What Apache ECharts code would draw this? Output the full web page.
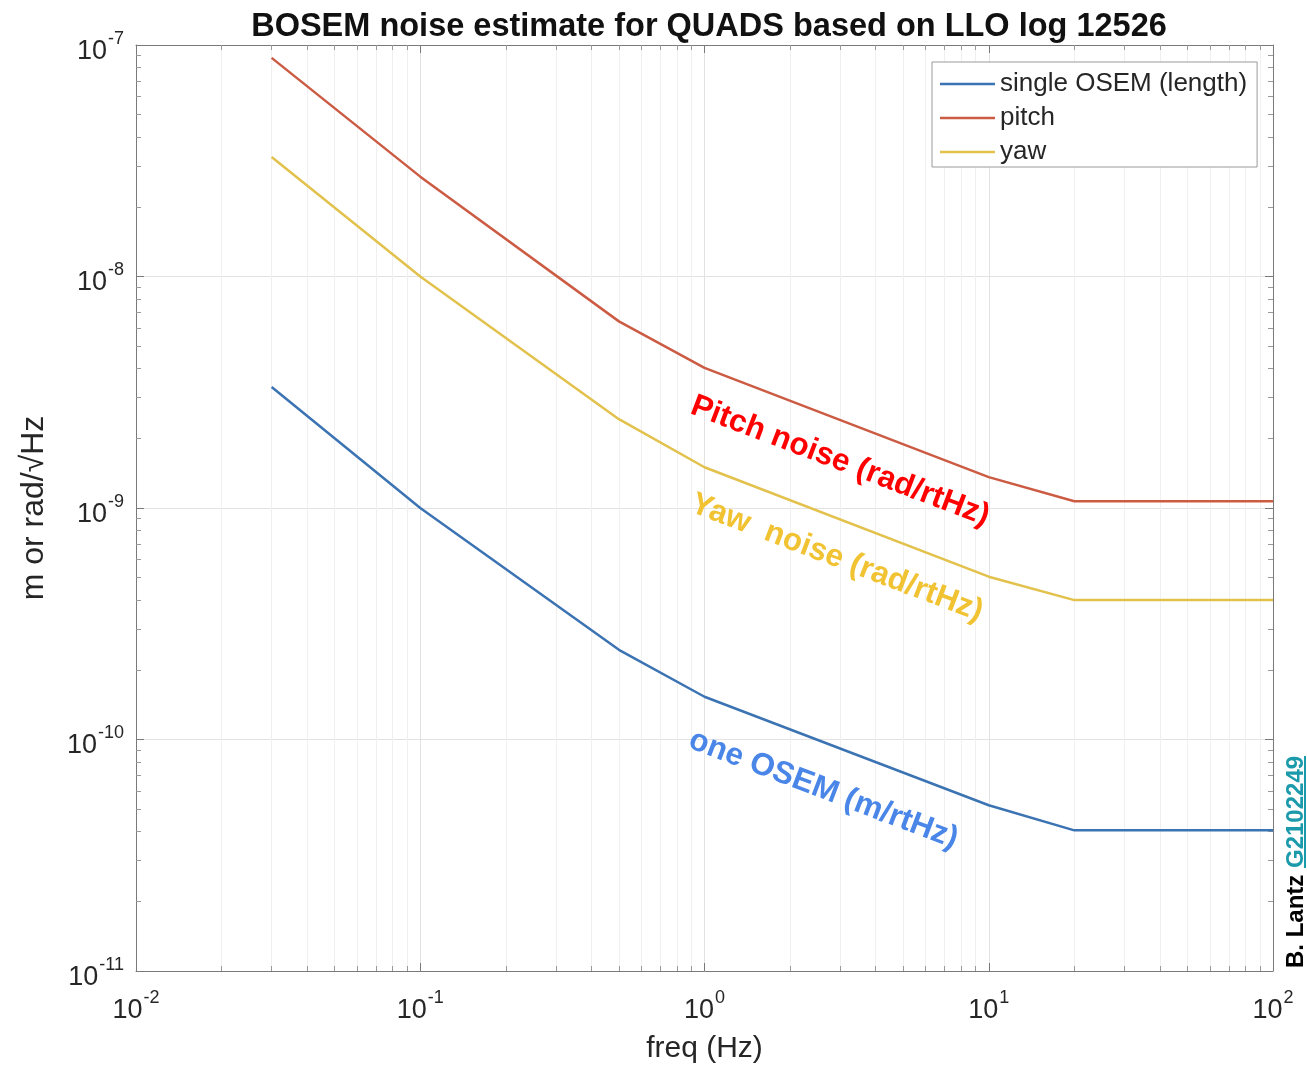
<!DOCTYPE html>
<html>
<head>
<meta charset="utf-8">
<script src="https://cdn.jsdelivr.net/npm/echarts@6/dist/echarts.min.js"></script>
<style>
html,body{margin:0;padding:0;background:#fff;}
#chart{width:1307px;height:1065px;}
</style>
</head>
<body>
<div id="chart"></div>
<script>
// ---- data ----
const freqs      = [0.03, 0.1, 0.5, 1, 10, 20, 100];
const singleOsem = [3.33e-9, 1.0e-9, 2.44e-10, 1.53e-10, 5.2e-11, 4.05e-11, 4.05e-11];
const pitch      = [8.8e-8, 2.7e-8, 6.4e-9, 4.03e-9, 1.36e-9, 1.07e-9, 1.07e-9];
const yaw        = [3.28e-8, 1.0e-8, 2.42e-9, 1.5e-9, 5.05e-10, 4.0e-10, 4.0e-10];
const seriesNames = ['single OSEM (length)', 'pitch', 'yaw'];
const xTickExps = [-2, -1, 0, 1, 2];
const yTickExps = [-11, -10, -9, -8, -7];
const minorMultipliers = [2, 3, 4, 5, 6, 7, 8, 9];

const FONT = '"Liberation Sans", Arial, Helvetica, sans-serif';
const TXT = '#262626';
const AXIS = '#7a7a7a';

const xMin = Math.pow(10, xTickExps[0]), xMax = Math.pow(10, xTickExps[xTickExps.length - 1]);
const yMin = Math.pow(10, yTickExps[0]), yMax = Math.pow(10, yTickExps[yTickExps.length - 1]);

const xMinor = [], yMinor = [];
xTickExps.slice(0, -1).forEach(e => minorMultipliers.forEach(k => xMinor.push(k * Math.pow(10, e))));
yTickExps.slice(0, -1).forEach(e => minorMultipliers.forEach(k => yMinor.push(k * Math.pow(10, e))));

// minor tick length expressed as a fraction of a decade on each axis
const xDecades = xTickExps.length - 1, yDecades = yTickExps.length - 1;
const plotW = 1307 - 136 - 34, plotH = 1065 - 45 - 94;
const tickPx = 5;
const fx = Math.pow(10, tickPx * xDecades / plotW);
const fy = Math.pow(10, tickPx * yDecades / plotH);
const minorTickLines = [];
xMinor.forEach(v => {
  minorTickLines.push([{coord: [v, yMin]}, {coord: [v, yMin * fy]}]);
  minorTickLines.push([{coord: [v, yMax]}, {coord: [v, yMax / fy]}]);
});
yMinor.forEach(v => {
  minorTickLines.push([{coord: [xMin, v]}, {coord: [xMin * fx, v]}]);
  minorTickLines.push([{coord: [xMax, v]}, {coord: [xMax / fx, v]}]);
});

function pow10Label(v) {
  const e = Math.round(Math.log10(v));
  return '{b|10}{e|' + e + '}';
}
const richLab = {
  b: {fontSize: 27, fontFamily: FONT, color: TXT, verticalAlign: 'bottom', lineHeight: 27},
  e: {fontSize: 18, fontFamily: FONT, color: TXT, verticalAlign: 'bottom', lineHeight: 18, padding: [0, 0, 17, 1]}
};

const toPairs = ys => freqs.map((f, i) => [f, ys[i]]);

const chart = echarts.init(document.getElementById('chart'), null, {renderer: 'canvas'});

const boxAxis = {
  axisLine: {show: true, lineStyle: {color: AXIS, width: 1}},
  axisTick: {show: true, inside: true, length: 8, lineStyle: {color: AXIS}},
  axisLabel: {show: false}, splitLine: {show: false}
};

const option = {
  backgroundColor: '#ffffff',
  animation: false,
  title: {
    text: 'BOSEM noise estimate for QUADS based on LLO log 12526',
    left: 704, top: 6, textAlign: 'center',
    textStyle: {fontFamily: FONT, fontSize: 32.5, fontWeight: 'bold', color: '#111'}
  },
  grid: {left: 136, right: 34, top: 45, bottom: 94, containLabel: false, outerBoundsMode: 'none'},
  legend: {
    data: seriesNames.map(n => ({name: n, icon: 'rect'})),
    orient: 'vertical',
    left: 932, top: 62,
    padding: [9, 10, 2, 8],
    itemGap: 8,
    itemWidth: 55, itemHeight: 2.5,
    backgroundColor: '#ffffff',
    borderColor: '#9a9a9a', borderWidth: 1,
    textStyle: {fontFamily: FONT, fontSize: 26, color: TXT}
  },
  xAxis: [{
    type: 'log', logBase: 10, min: xMin, max: xMax,
    name: 'freq (Hz)', nameLocation: 'middle', nameGap: 63,
    nameTextStyle: {fontFamily: FONT, fontSize: 30, color: TXT},
    axisLine: {show: true, lineStyle: {color: AXIS, width: 1}},
    axisTick: {show: true, inside: true, length: 8, lineStyle: {color: AXIS}},
    axisLabel: {margin: 26, formatter: pow10Label, rich: richLab},
    splitLine: {show: true, lineStyle: {color: '#e2e2e2', width: 1}}
  }, Object.assign({type: 'log', logBase: 10, min: xMin, max: xMax, position: 'top'}, boxAxis)],
  yAxis: [{
    type: 'log', logBase: 10, min: yMin, max: yMax,
    name: 'm or rad/\u221AHz', nameLocation: 'middle', nameGap: 86,
    nameTextStyle: {fontFamily: FONT, fontSize: 32, color: TXT},
    axisLine: {show: true, lineStyle: {color: AXIS, width: 1}},
    axisTick: {show: true, inside: true, length: 8, lineStyle: {color: AXIS}},
    axisLabel: {margin: 12, padding: [13, 0, 0, 0], formatter: pow10Label, rich: richLab},
    splitLine: {show: true, lineStyle: {color: '#e2e2e2', width: 1}}
  }, Object.assign({type: 'log', logBase: 10, min: yMin, max: yMax, position: 'right'}, boxAxis)],
  series: [
    {
      name: '__minorgrid', type: 'line', data: [], silent: true, z: 1,
      markLine: {
        silent: true, symbol: 'none', animation: false, z: 1,
        label: {show: false},
        lineStyle: {color: '#f0f0f0', width: 1, type: 'solid'},
        emphasis: {disabled: true},
        data: xMinor.map(v => ({xAxis: v})).concat(yMinor.map(v => ({yAxis: v})))
      }
    },
    {
      name: '__minorticks', type: 'line', data: [], silent: true, z: 2,
      markLine: {
        silent: true, symbol: 'none', animation: false, z: 2,
        label: {show: false},
        lineStyle: {color: '#9a9a9a', width: 1, type: 'solid'},
        emphasis: {disabled: true},
        data: minorTickLines
      }
    },
    {
      name: seriesNames[0], type: 'line', data: toPairs(singleOsem), symbol: 'none', z: 3,
      lineStyle: {width: 2.5, color: '#3b73b3'}, itemStyle: {color: '#3b73b3'}
    },
    {
      name: seriesNames[1], type: 'line', data: toPairs(pitch), symbol: 'none', z: 3,
      lineStyle: {width: 2.5, color: '#cc5b43'}, itemStyle: {color: '#cc5b43'}
    },
    {
      name: seriesNames[2], type: 'line', data: toPairs(yaw), symbol: 'none', z: 3,
      lineStyle: {width: 2.5, color: '#e2c14c'}, itemStyle: {color: '#e2c14c'}
    }
  ],
  graphic: [
    {
      type: 'text', x: 692, y: 405, rotation: -20.8 * Math.PI / 180, z: 10,
      style: {text: 'Pitch noise (rad/rtHz)', fill: '#ff0000', font: 'bold 31.5px ' + FONT,
              textAlign: 'left', textVerticalAlign: 'middle'}
    },
    {
      type: 'text', x: 692, y: 503, rotation: -20.8 * Math.PI / 180, z: 10,
      style: {text: 'Yaw  noise (rad/rtHz)', fill: '#f1c232', font: 'bold 31.5px ' + FONT,
              textAlign: 'left', textVerticalAlign: 'middle'}
    },
    {
      type: 'text', x: 690, y: 739, rotation: -20.8 * Math.PI / 180, z: 10,
      style: {text: 'one OSEM (m/rtHz)', fill: '#4a86e8', font: 'bold 31.5px ' + FONT,
              textAlign: 'left', textVerticalAlign: 'middle'}
    },
    {
      type: 'text', x: 1308, y: 968, rotation: Math.PI / 2, z: 10,
      style: {text: 'B. Lantz ', fill: '#000000', font: 'bold 24px ' + FONT,
              textAlign: 'left', textVerticalAlign: 'bottom'}
    },
    {
      type: 'text', x: 1308, y: 868, rotation: Math.PI / 2, z: 10,
      style: {text: 'G2102249', fill: '#1a9aab', font: 'bold 24px ' + FONT,
              textAlign: 'left', textVerticalAlign: 'bottom'}
    },
    {
      type: 'line', z: 10,
      shape: {x1: 1305, y1: 868, x2: 1305, y2: 756},
      style: {stroke: '#1a9aab', lineWidth: 2}
    }
  ]
};
chart.setOption(option);
</script>
</body>
</html>
